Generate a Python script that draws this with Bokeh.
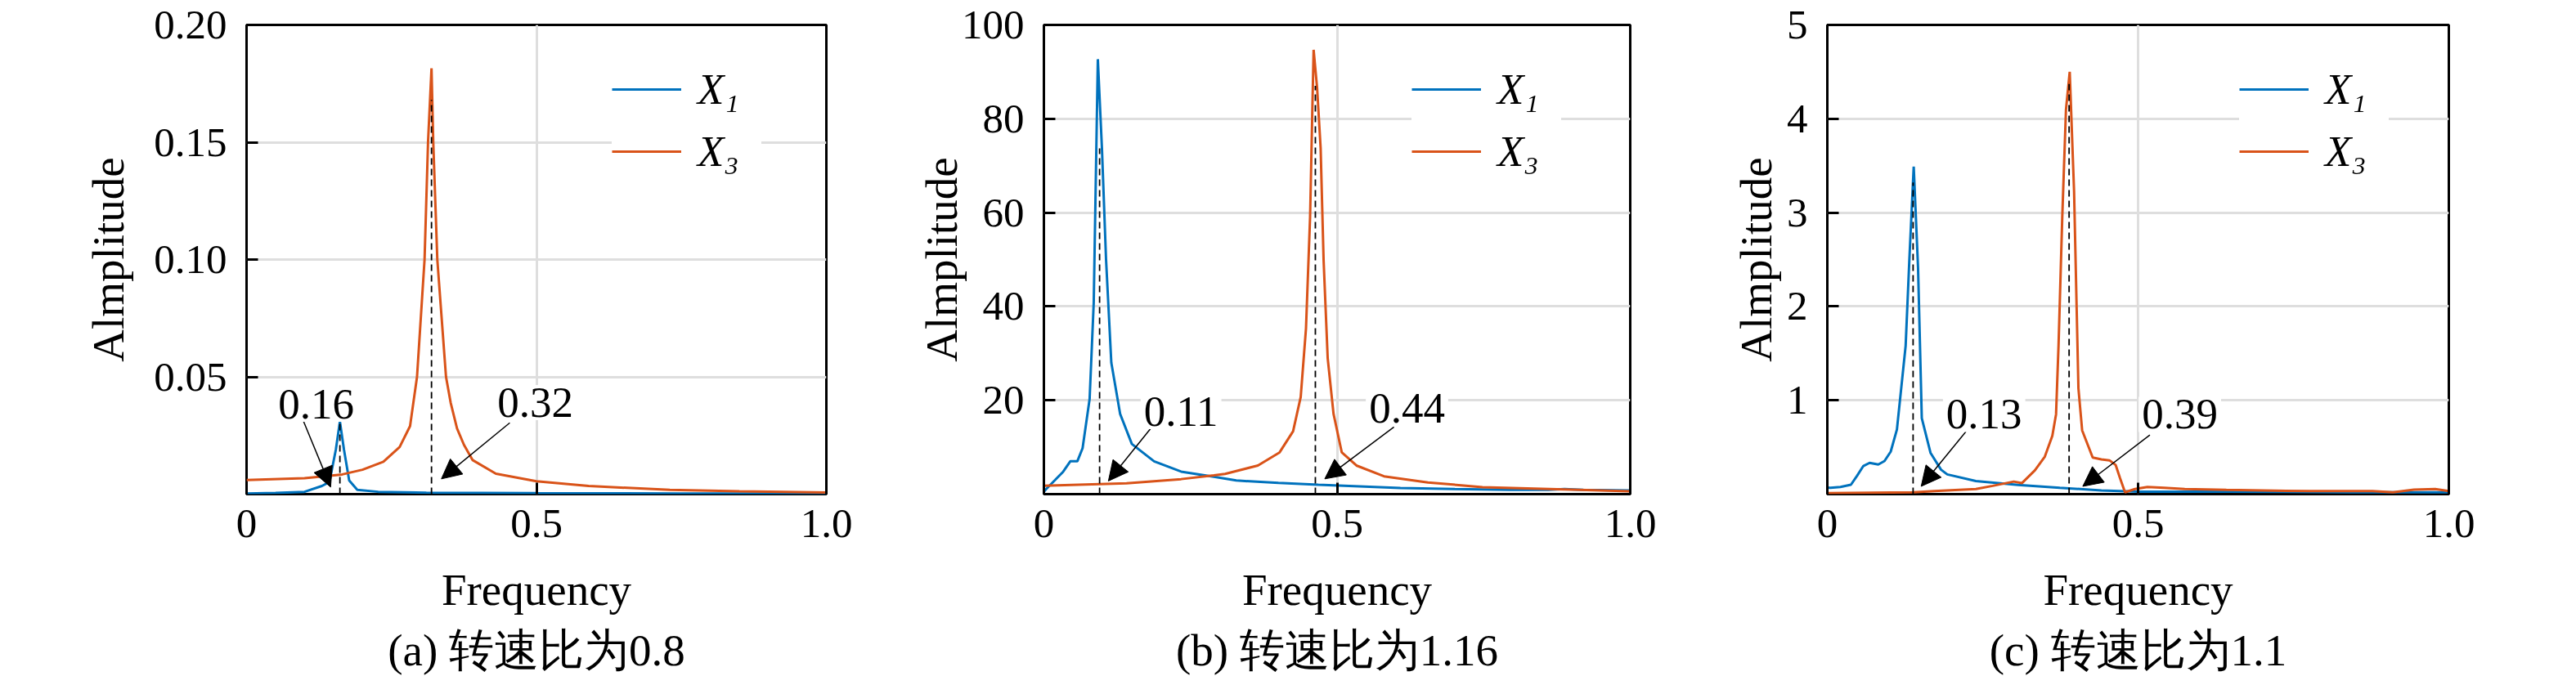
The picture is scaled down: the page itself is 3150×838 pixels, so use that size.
from bokeh.plotting import figure
from bokeh.layouts import row
from bokeh.models import (Range1d, FixedTicker, PrintfTickFormatter, Legend, LegendItem,
                          Label, Arrow, NormalHead, ColumnDataSource, Title)
from bokeh.embed import file_html
from bokeh.resources import INLINE

# ---------------- data ----------------
# panel (a) speed ratio 0.8
a_f1 = [0, 0.05, 0.10, 0.13, 0.143, 0.154, 0.161, 0.168, 0.177, 0.191, 0.227, 0.31, 0.5, 0.75, 1.0]
a_x1 = [0.0003, 0.0005, 0.001, 0.0035, 0.0052, 0.019, 0.0309, 0.019, 0.0058, 0.0018, 0.001, 0.0006, 0.0004, 0.0003, 0.0003]
a_f3 = [0, 0.1, 0.165, 0.2, 0.236, 0.264, 0.282, 0.294, 0.307, 0.313, 0.319, 0.322, 0.329, 0.344, 0.352,
        0.363, 0.375, 0.39, 0.43, 0.5, 0.59, 0.73, 0.85, 1.0]
a_x3 = [0.0060, 0.0068, 0.0084, 0.0104, 0.0138, 0.0201, 0.029, 0.05, 0.10, 0.15, 0.1815, 0.15, 0.10, 0.05, 0.039,
        0.028, 0.021, 0.0145, 0.0087, 0.0055, 0.0035, 0.0018, 0.0012, 0.0007]
a_peaks = [0.161, 0.319]
a_peak_tops = [0.030, 0.168]
a_peak_labels = ["0.16", "0.32"]
a_label_x = [0.049, 0.427]
a_label_y = [0.0383, 0.039]
a_arrow_x0 = [0.097, 0.454]
a_arrow_y0 = [0.0318, 0.0304]
a_arrow_x1 = [0.145, 0.336]
a_arrow_y1 = [0.003, 0.0065]

# panel (b) speed ratio 1.16
b_f1 = [0, 0.004, 0.019, 0.033, 0.045, 0.057, 0.066, 0.078, 0.085, 0.092, 0.099, 0.106, 0.115, 0.130,
        0.150, 0.188, 0.234, 0.29, 0.328, 0.40, 0.468, 0.608, 0.70, 0.795, 0.86, 0.888, 0.92, 1.0]
b_x1 = [0.5, 1.1, 3.0, 4.8, 7.0, 7.0, 9.8, 20.3, 40.8, 92.7, 73.7, 50, 28.0, 17.1,
        10.7, 7.0, 4.8, 3.7, 2.9, 2.4, 2.0, 1.3, 1.1, 0.9, 0.9, 1.1, 0.9, 0.8]
b_f3 = [0, 0.141, 0.234, 0.29, 0.309, 0.365, 0.402, 0.425, 0.438, 0.447, 0.454, 0.460, 0.466, 0.472,
        0.477, 0.484, 0.494, 0.508, 0.533, 0.580, 0.655, 0.748, 0.888, 1.0]
b_x3 = [1.8, 2.3, 3.2, 4.0, 4.3, 6.1, 8.9, 13.4, 20.7, 35.3, 59.1, 94.7, 86.5, 73.7,
        50, 29, 17.1, 8.9, 6.1, 3.8, 2.5, 1.5, 1.0, 0.6]
b_peaks = [0.095, 0.463]
b_peak_tops = [73.7, 87.0]
b_peak_labels = ["0.11", "0.44"]
b_label_x = [0.165, 0.549]
b_label_y = [17.6, 18.3]
b_arrow_x0 = [0.184, 0.597]
b_arrow_y0 = [14.3, 14.3]
b_arrow_x1 = [0.110, 0.479]
b_arrow_y1 = [2.8, 3.25]

# panel (c) speed ratio 1.1
c_f1 = [0, 0.005, 0.021, 0.038, 0.048, 0.058, 0.068, 0.082, 0.092, 0.102, 0.112, 0.126, 0.132, 0.139,
        0.146, 0.152, 0.166, 0.183, 0.193, 0.239, 0.307, 0.374, 0.441, 0.501, 0.642, 0.843, 1.0]
c_x1 = [0.07, 0.068, 0.077, 0.10, 0.197, 0.30, 0.333, 0.316, 0.353, 0.453, 0.69, 1.58, 2.50, 3.49,
        2.41, 0.81, 0.44, 0.26, 0.21, 0.14, 0.097, 0.068, 0.04, 0.026, 0.026, 0.02, 0.02]
c_f3 = [0, 0.139, 0.172, 0.239, 0.266, 0.300, 0.313, 0.334, 0.350, 0.362, 0.368, 0.372, 0.378, 0.384,
        0.390, 0.397, 0.404, 0.41, 0.427, 0.441, 0.454, 0.464, 0.471, 0.479, 0.495, 0.515, 0.542,
        0.575, 0.642, 0.776, 0.877, 0.91, 0.944, 0.978, 1.0]
c_x3 = [0.01, 0.02, 0.032, 0.054, 0.088, 0.134, 0.117, 0.254, 0.40, 0.62, 0.85, 1.58, 2.95, 4.10,
        4.50, 3.23, 1.13, 0.68, 0.39, 0.37, 0.36, 0.31, 0.17, 0.02, 0.054, 0.077, 0.068,
        0.054, 0.045, 0.032, 0.032, 0.02, 0.048, 0.054, 0.032]
c_peaks = [0.138, 0.389]
c_peak_tops = [3.32, 4.37]
c_peak_labels = ["0.13", "0.39"]
c_label_x = [0.186, 0.501]
c_label_y = [0.85, 0.85]
c_arrow_x0 = [0.223, 0.519]
c_arrow_y0 = [0.667, 0.63]
c_arrow_x1 = [0.151, 0.411]
c_arrow_y1 = [0.083, 0.083]

x_ticks = [0, 0.5, 1.0]
x_tick_labels = {0: "0", 0.5: "0.5", 1: "1.0"}
a_y_ticks = [0.05, 0.10, 0.15, 0.20]
b_y_ticks = [20, 40, 60, 80, 100]
c_y_ticks = [1, 2, 3, 4, 5]
legend_labels = ["X\u2081", "X\u2083"]
captions = ["(a) 转速比为0.8", "(b) 转速比为1.16", "(c) 转速比为1.1"]

BLUE = "#0072BD"
ORANGE = "#D95319"
FONT = "Liberation Serif"
FRAME_H = 574
TOP = 30
LEG_Y = 389


def make_panel(f1, x1, f3, x3, ymax, yticks, yfmt, peaks, tops, labels, lx, ly,
               ax0, ay0, ax1, ay1, caption, frame_w, border_l, border_r, ylab_standoff, legend_x):
    p = figure(frame_width=frame_w, frame_height=FRAME_H, min_border_left=border_l,
               min_border_right=border_r, min_border_top=TOP, min_border_bottom=100,
               x_range=Range1d(0, 1), y_range=Range1d(0, ymax),
               output_backend="svg", toolbar_location=None, title=None)
    p.background_fill_color = "white"
    p.border_fill_color = "white"
    p.outline_line_color = "black"
    p.outline_line_width = 3

    r1 = p.line(f1, x1, line_color=BLUE, line_width=3)
    r3 = p.line(f3, x3, line_color=ORANGE, line_width=3)

    p.segment(x0=peaks, y0=[0, 0], x1=peaks, y1=tops, line_color="black",
              line_width=1.8, line_dash="8 5")

    src = ColumnDataSource(dict(x0=ax0, y0=ay0, x1=ax1, y1=ay1))
    p.add_layout(Arrow(end=NormalHead(size=24, fill_color="black", line_color="black", line_width=1),
                       source=src, x_start="x0", y_start="y0", x_end="x1", y_end="y1",
                       line_color="black", line_width=1.5))

    for t, x, y in zip(labels, lx, ly):
        p.add_layout(Label(x=x, y=y, text=t, text_font=FONT, text_font_size="53px",
                           text_color="black", text_align="left", text_baseline="alphabetic",
                           background_fill_color="white", background_fill_alpha=1.0,
                           padding=4))

    # axes
    p.xaxis.ticker = FixedTicker(ticks=x_ticks)
    p.xaxis.major_label_overrides = x_tick_labels
    p.yaxis.ticker = FixedTicker(ticks=yticks)
    p.yaxis.formatter = PrintfTickFormatter(format=yfmt)
    for ax in (p.xaxis[0], p.yaxis[0]):
        ax.major_tick_in = 14
        ax.major_tick_out = 0
        ax.major_tick_line_color = "black"
        ax.major_tick_line_width = 3
        ax.minor_tick_line_color = None
        ax.axis_line_color = None
        ax.major_label_text_font = FONT
        ax.major_label_text_font_size = "51px"
        ax.major_label_text_color = "black"
        ax.axis_label_text_font = FONT
        ax.axis_label_text_font_size = "55px"
        ax.axis_label_text_font_style = "normal"
        ax.axis_label_text_color = "black"
    p.xaxis.axis_label = "Frequency"
    p.yaxis.axis_label = "Almplitude"
    p.xaxis.major_label_standoff = 19
    p.xaxis.axis_label_standoff = 31
    p.yaxis.major_label_standoff = 24
    p.yaxis.axis_label_standoff = ylab_standoff

    p.xgrid.ticker = FixedTicker(ticks=[0.5])
    p.ygrid.ticker = FixedTicker(ticks=yticks)
    for g in (p.xgrid[0], p.ygrid[0]):
        g.grid_line_color = "#dedede"
        g.grid_line_width = 3

    legend = Legend(items=[LegendItem(label=legend_labels[0], renderers=[r1]),
                           LegendItem(label=legend_labels[1], renderers=[r3])],
                    location=(legend_x, LEG_Y))
    legend.label_text_font = FONT
    legend.label_text_font_style = "italic"
    legend.label_text_font_size = "53px"
    legend.label_text_color = "black"
    legend.glyph_width = 85
    legend.glyph_height = 60
    legend.label_height = 60
    legend.label_width = 78
    legend.spacing = 16
    legend.padding = 14
    legend.margin = 0
    legend.label_standoff = 20
    legend.background_fill_color = "white"
    legend.background_fill_alpha = 1.0
    legend.border_line_color = None
    p.add_layout(legend)

    p.add_layout(Title(text=caption, align="center", text_font=FONT, text_font_size="55px",
                       text_font_style="normal", text_color="black", standoff=16), "below")
    return p


pa = make_panel(a_f1, a_x1, a_f3, a_x3, 0.2, a_y_ticks, "%.2f", a_peaks, a_peak_tops, a_peak_labels,
                a_label_x, a_label_y, a_arrow_x0, a_arrow_y0, a_arrow_x1, a_arrow_y1, captions[0],
                709, 301, 82, 22, 447)
pb = make_panel(b_f1, b_x1, b_f3, b_x3, 100, b_y_ticks, "%d", b_peaks, b_peak_tops, b_peak_labels,
                b_label_x, b_label_y, b_arrow_x0, b_arrow_y0, b_arrow_x1, b_arrow_y1, captions[1],
                717, 184, 79, -9, 450)
pc = make_panel(c_f1, c_x1, c_f3, c_x3, 5, c_y_ticks, "%d", c_peaks, c_peak_tops, c_peak_labels,
                c_label_x, c_label_y, c_arrow_x0, c_arrow_y0, c_arrow_x1, c_arrow_y1, captions[2],
                760, 162, 100, 4, 504)

layout = row(pa, pb, pc)
open("out.html", "w").write(file_html(layout, INLINE))
